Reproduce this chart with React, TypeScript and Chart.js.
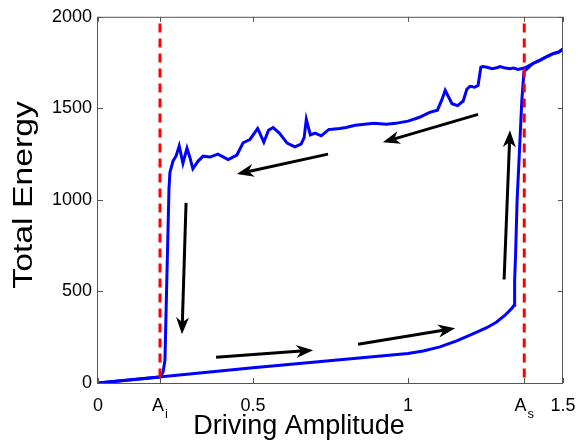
import React, { useEffect, useRef } from 'react';
import { Chart, registerables } from 'chart.js';

Chart.register(...registerables);

// Critical driving amplitudes
const A_I = 0.2;
const A_S = 1.375;

// Forward sweep: amplitude increasing from 0 to 1.5
const upSweepX = [0, 0.5, 1.0, 1.049, 1.103, 1.157, 1.211, 1.254, 1.286, 1.313, 1.334, 1.342, 1.344, 1.347, 1.352, 1.358, 1.367, 1.374, 1.403, 1.425, 1.448, 1.468, 1.485, 1.5];
const upSweepY = [0, 83, 161, 175, 197, 230, 270, 302, 333, 370, 406, 424, 560, 700, 1000, 1212, 1538, 1701, 1745, 1762, 1783, 1799, 1806, 1824];

// Backward sweep: amplitude decreasing from 1.5 back to 0
const downSweepX = [1.5, 1.485, 1.468, 1.448, 1.425, 1.403, 1.385, 1.375, 1.355, 1.34, 1.329, 1.31, 1.297, 1.283, 1.271, 1.255, 1.242, 1.235, 1.226, 1.215, 1.2, 1.19, 1.178, 1.16, 1.142, 1.12, 1.11, 1.095, 1.07, 1.035, 1.0, 0.96, 0.93, 0.89, 0.86, 0.83, 0.8, 0.78, 0.755, 0.745, 0.72, 0.70, 0.685, 0.672, 0.665, 0.655, 0.635, 0.61, 0.585, 0.565, 0.55, 0.535, 0.515, 0.49, 0.468, 0.448, 0.42, 0.387, 0.361, 0.339, 0.323, 0.306, 0.297, 0.287, 0.274, 0.262, 0.252, 0.242, 0.232, 0.229, 0.221, 0.216, 0.21, 0.2, 0];
const downSweepY = [1824, 1806, 1799, 1783, 1762, 1745, 1728, 1720, 1712, 1720, 1717, 1722, 1728, 1720, 1717, 1724, 1728, 1725, 1625, 1615, 1620, 1605, 1540, 1515, 1525, 1598, 1550, 1490, 1478, 1450, 1430, 1418, 1413, 1418, 1413, 1408, 1395, 1390, 1386, 1385, 1350, 1365, 1355, 1440, 1340, 1305, 1290, 1310, 1365, 1395, 1380, 1315, 1390, 1330, 1312, 1245, 1220, 1250, 1234, 1239, 1212, 1170, 1228, 1283, 1200, 1295, 1240, 1212, 1150, 1060, 490, 125, 60, 33, 0];

// Vertical extent of the dashed critical-amplitude markers
const criticalLineY = [30, 1975];

// Axis ticks
const xTickValues = [0, A_I, 0.5, 1, A_S, 1.5];
const xTickLabels = ['0', 'A_i', '0.5', '1', 'A_s', '1.5'];
const yTickValues = [0, 500, 1000, 1500, 2000];

// Direction arrows (tail -> head) in data units
const arrowFromX = [1.226, 0.742, 0.284, 0.381, 0.839, 1.310];
const arrowFromY = [1467, 1250, 984, 141, 212, 565];
const arrowToX = [0.919, 0.448, 0.271, 0.694, 1.152, 1.329];
const arrowToY = [1315, 1141, 266, 179, 299, 1380];

const FONT = '"Liberation Sans", Arial, Helvetica, sans-serif';

const toPoints = (xs: number[], ys: number[]) => xs.map((x, i) => ({ x, y: ys[i] }));

const decorations = {
  id: 'decorations',
  afterDatasetsDraw(chart: any) {
    const { ctx, chartArea: a, scales } = chart;
    const sx = scales.x;
    const sy = scales.y;
    ctx.save();

    // arrows
    ctx.strokeStyle = '#000';
    ctx.fillStyle = '#000';
    ctx.lineWidth = 3;
    ctx.lineCap = 'butt';
    for (let i = 0; i < arrowFromX.length; i++) {
      const x0 = sx.getPixelForValue(arrowFromX[i]);
      const y0 = sy.getPixelForValue(arrowFromY[i]);
      const x1 = sx.getPixelForValue(arrowToX[i]);
      const y1 = sy.getPixelForValue(arrowToY[i]);
      const ang = Math.atan2(y1 - y0, x1 - x0);
      const ux = Math.cos(ang);
      const uy = Math.sin(ang);
      const px = -uy;
      const py = ux;
      const L = 17;
      const W = 6.5;
      const N = 5;
      ctx.beginPath();
      ctx.moveTo(x0, y0);
      ctx.lineTo(x1 - ux * (L - N), y1 - uy * (L - N));
      ctx.stroke();
      ctx.beginPath();
      ctx.moveTo(x1, y1);
      ctx.lineTo(x1 - ux * L + px * W, y1 - uy * L + py * W);
      ctx.lineTo(x1 - ux * (L - N), y1 - uy * (L - N));
      ctx.lineTo(x1 - ux * L - px * W, y1 - uy * L - py * W);
      ctx.closePath();
      ctx.fill();
    }

    // axes box with inward ticks
    ctx.strokeStyle = '#555';
    ctx.lineWidth = 1;
    ctx.strokeRect(a.left - 0.5, a.top + 0.5, a.right - a.left, a.bottom - a.top);
    ctx.beginPath();
    for (const v of xTickValues) {
      const p = Math.round(sx.getPixelForValue(v)) + 0.5;
      ctx.moveTo(p, a.bottom);
      ctx.lineTo(p, a.bottom - 5);
      ctx.moveTo(p, a.top);
      ctx.lineTo(p, a.top + 5);
    }
    for (const v of yTickValues) {
      const p = Math.round(sy.getPixelForValue(v)) + 0.5;
      ctx.moveTo(a.left, p);
      ctx.lineTo(a.left + 5, p);
      ctx.moveTo(a.right, p);
      ctx.lineTo(a.right - 5, p);
    }
    ctx.stroke();

    // x tick labels (with subscripts)
    ctx.fillStyle = '#000';
    ctx.textBaseline = 'alphabetic';
    ctx.textAlign = 'left';
    const baseY = a.bottom + 28;
    xTickValues.forEach((v, i) => {
      const p = sx.getPixelForValue(v);
      const [main, sub] = xTickLabels[i].split('_');
      ctx.font = `18px ${FONT}`;
      const wm = ctx.measureText(main).width;
      let ws = 0;
      if (sub) {
        ctx.font = `13px ${FONT}`;
        ws = ctx.measureText(sub).width + 1;
      }
      const start = p - (wm + ws) / 2;
      ctx.font = `18px ${FONT}`;
      ctx.fillText(main, start, baseY);
      if (sub) {
        ctx.font = `13px ${FONT}`;
        ctx.fillText(sub, start + wm + 1, baseY + 7);
      }
    });

    // axis titles
    ctx.font = `27px ${FONT}`;
    ctx.textAlign = 'center';
    ctx.textBaseline = 'middle';
    ctx.fillText('Driving Amplitude', 299, a.bottom + 44);
    ctx.save();
    ctx.translate(25, (a.top + a.bottom) / 2 - 5);
    ctx.rotate(-Math.PI / 2);
    ctx.scale(1.25, 1);
    ctx.fillText('Total Energy', 0, 0);
    ctx.restore();

    ctx.restore();
  },
};

export default function App() {
  const canvasRef = useRef<HTMLCanvasElement | null>(null);

  useEffect(() => {
    const canvas = canvasRef.current;
    if (!canvas) return;
    const chart = new Chart(canvas, {
      type: 'scatter',
      data: {
        datasets: [
          {
            data: toPoints([A_I, A_I], criticalLineY),
            showLine: true,
            borderColor: '#ff0000',
            borderWidth: 3,
            borderDash: [9, 6],
            pointRadius: 0,
            order: 0,
          },
          {
            data: toPoints([A_S, A_S], criticalLineY),
            showLine: true,
            borderColor: '#ff0000',
            borderWidth: 3,
            borderDash: [9, 6],
            pointRadius: 0,
            order: 0,
          },
          {
            data: toPoints(upSweepX, upSweepY),
            showLine: true,
            borderColor: '#0000ff',
            borderWidth: 3,
            pointRadius: 0,
            tension: 0,
            order: 1,
          },
          {
            data: toPoints(downSweepX, downSweepY),
            showLine: true,
            borderColor: '#0000ff',
            borderWidth: 3,
            pointRadius: 0,
            tension: 0,
            order: 1,
          },
        ],
      },
      options: {
        animation: false,
        responsive: false,
        events: [],
        layout: { padding: { top: 15, right: 22, left: 0, bottom: 0 } },
        plugins: { legend: { display: false }, tooltip: { enabled: false } },
        scales: {
          x: {
            type: 'linear',
            min: 0,
            max: 1.5,
            grid: { display: false, drawTicks: false },
            border: { display: false },
            ticks: { display: false },
            afterFit: (s: any) => {
              s.height = 60;
            },
          },
          y: {
            type: 'linear',
            min: 0,
            max: 2000,
            grid: { display: false, drawTicks: false },
            border: { display: false },
            ticks: {
              stepSize: 500,
              padding: 6,
              color: '#000',
              font: { family: FONT, size: 18 },
              callback: (v: any) => String(v),
            },
            afterFit: (s: any) => {
              s.width = 98;
            },
          },
        },
      },
      plugins: [decorations],
    });
    return () => chart.destroy();
  }, []);

  return (
    <div style={{ position: 'fixed', left: 0, top: 0, width: 585, height: 443, background: '#fff' }}>
      <canvas ref={canvasRef} width={585} height={443} />
    </div>
  );
}
